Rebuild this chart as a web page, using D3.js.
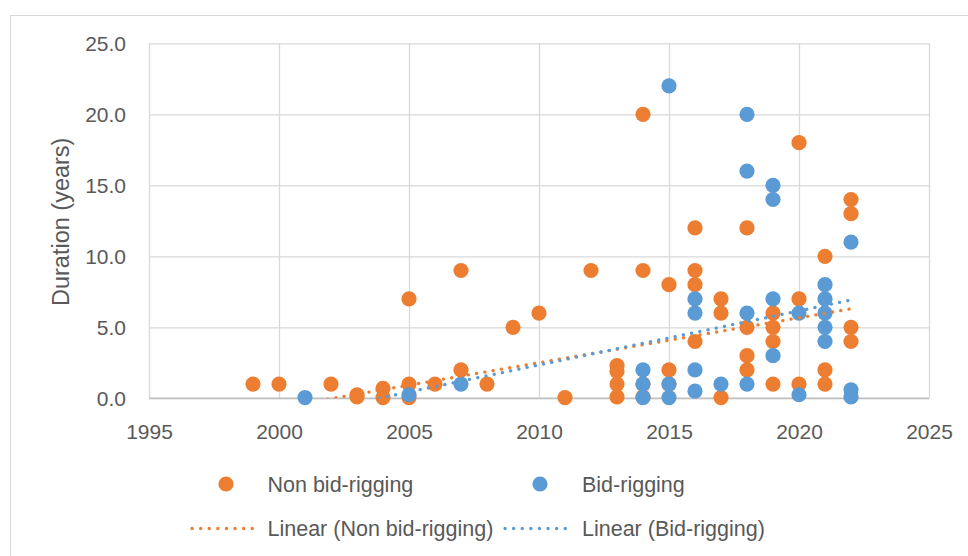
<!DOCTYPE html>
<html>
<head>
<meta charset="utf-8">
<script src="https://cdn.jsdelivr.net/npm/d3@7/dist/d3.min.js"></script>
<style>
  html, body { margin: 0; padding: 0; background: #ffffff; }
  svg { display: block; font-family: "Liberation Sans", Arial, sans-serif; }
</style>
</head>
<body>
<svg id="chart" width="968" height="556"></svg>
<script>
// ---- Data ----
const nonYears = [1999, 2000, 2002, 2003, 2003, 2004, 2004, 2005, 2005, 2005, 2006, 2007, 2007, 2008, 2009, 2010, 2011, 2012,
  2013, 2013, 2013, 2013, 2014, 2014, 2014, 2014, 2015, 2015, 2015, 2016, 2016, 2016, 2016,
  2017, 2017, 2017, 2018, 2018, 2018, 2018, 2019, 2019, 2019, 2019, 2020, 2020, 2020, 2021, 2021, 2021, 2022, 2022, 2022, 2022];
const nonDuration = [1, 1, 1, 0.25, 0.1, 0.7, 0.05, 7, 1, 0.05, 1, 9, 2, 1, 5, 6, 0.05, 9,
  2.3, 1.9, 1.0, 0.1, 20, 9, 1.0, 0.1, 8, 2, 1, 12, 9, 8, 4,
  7, 6, 0.05, 12, 5, 3, 2, 6, 5, 4, 1, 18, 7, 1, 10, 2, 1, 14, 13, 5, 4];

const bidYears = [2001, 2005, 2007, 2014, 2014, 2014, 2015, 2015, 2015, 2016, 2016, 2016, 2016, 2017,
  2018, 2018, 2018, 2018, 2019, 2019, 2019, 2019, 2020, 2020, 2021, 2021, 2021, 2021, 2021, 2022, 2022, 2022];
const bidDuration = [0.05, 0.25, 1, 2, 1, 0.05, 22, 1, 0.05, 7, 6, 2, 0.5, 1,
  20, 16, 6, 1, 15, 14, 7, 3, 6, 0.25, 8, 7, 6, 5, 4, 11, 0.6, 0.1];

// Linear trendlines (end values)
const nonTrendYears = [1999, 2022];
const nonTrendValues = [-0.97, 6.30];
const bidTrendYears = [2001, 2022];
const bidTrendValues = [-1.08, 6.92];

const xTicks = [1995, 2000, 2005, 2010, 2015, 2020, 2025];
const yTicks = [0, 5, 10, 15, 20, 25];
const yTitle = "Duration (years)";
const legendLabels = ["Non bid-rigging", "Bid-rigging", "Linear (Non bid-rigging)", "Linear (Bid-rigging)"];

// ---- Style ----
const orange = "#ED7D31", blue = "#5B9BD5", textColor = "#595959", gridColor = "#d9d9d9";
const plot = { left: 149, right: 929, top: 43.3, bottom: 398.3 };

const svg = d3.select("#chart");

// chart border
svg.append("rect").attr("x", 10.5).attr("y", 15.5).attr("width", 1000).attr("height", 700)
  .attr("fill", "#fff").attr("stroke", "#d9d9d9").attr("stroke-width", 1);

const x = d3.scaleLinear().domain([1995, 2025]).range([plot.left, plot.right]);
const y = d3.scaleLinear().domain([0, 25]).range([plot.bottom, plot.top]);

// Y axis + horizontal gridlines
const yAxis = svg.append("g").attr("transform", `translate(${plot.left},0)`)
  .call(d3.axisLeft(y).tickValues(yTicks).tickFormat(d3.format(".1f"))
    .tickSize(-(plot.right - plot.left)).tickPadding(23));
yAxis.select(".domain").remove();
yAxis.selectAll("line").attr("stroke", gridColor).attr("stroke-width", 1.3);
yAxis.selectAll("text").attr("fill", textColor).attr("font-size", 21).attr("dy", "0.36em")
  .attr("font-family", "Liberation Sans, Arial, sans-serif");

// X axis + vertical gridlines
const xAxis = svg.append("g").attr("transform", `translate(0,${plot.bottom})`)
  .call(d3.axisBottom(x).tickValues(xTicks).tickFormat(d3.format("d"))
    .tickSize(-(plot.bottom - plot.top)).tickPadding(26));
xAxis.select(".domain").remove();
xAxis.selectAll("line").attr("stroke", gridColor).attr("stroke-width", 1.3);
xAxis.selectAll("text").attr("fill", textColor).attr("font-size", 21)
  .attr("font-family", "Liberation Sans, Arial, sans-serif");

// horizontal axis line at 0
svg.append("line").attr("x1", plot.left).attr("x2", plot.right)
  .attr("y1", y(0)).attr("y2", y(0)).attr("stroke", "#bfbfbf").attr("stroke-width", 1.5);

// Y title
svg.append("text").attr("transform", `translate(68.5,${(plot.top + plot.bottom) / 2 + 1}) rotate(-90)`)
  .attr("text-anchor", "middle").attr("fill", textColor).attr("font-size", 23.5).text(yTitle);

// clip
svg.append("clipPath").attr("id", "plotClip").append("rect")
  .attr("x", plot.left).attr("y", plot.top).attr("width", plot.right - plot.left).attr("height", plot.bottom - plot.top);

const r = 7.6;
// Non bid-rigging points
svg.append("g").selectAll("circle").data(nonYears.map((yr, i) => [yr, nonDuration[i]])).join("circle")
  .attr("cx", d => x(d[0])).attr("cy", d => y(d[1])).attr("r", r).attr("fill", orange);
// Bid-rigging points
svg.append("g").selectAll("circle").data(bidYears.map((yr, i) => [yr, bidDuration[i]])).join("circle")
  .attr("cx", d => x(d[0])).attr("cy", d => y(d[1])).attr("r", r).attr("fill", blue);

// Trendlines
const line = d3.line().x(d => x(d[0])).y(d => y(d[1]));
const trendG = svg.append("g").attr("clip-path", "url(#plotClip)");
trendG.append("path").datum(nonTrendYears.map((yr, i) => [yr, nonTrendValues[i]]))
  .attr("d", line).attr("fill", "none").attr("stroke", orange).attr("stroke-width", 3.3)
  .attr("stroke-linecap", "round").attr("stroke-dasharray", "0.1 8.3");
trendG.append("path").datum(bidTrendYears.map((yr, i) => [yr, bidTrendValues[i]]))
  .attr("d", line).attr("fill", "none").attr("stroke", blue).attr("stroke-width", 3.3)
  .attr("stroke-linecap", "round").attr("stroke-dasharray", "0.1 8.3");

// Legend
const legend = svg.append("g").attr("fill", textColor).attr("font-size", 21.5);
const legendItems = [
  { label: legendLabels[0], color: orange, type: "dot", sx: 226, tx: 267.5, cy: 484 },
  { label: legendLabels[1], color: blue, type: "dot", sx: 540, tx: 582, cy: 484 },
  { label: legendLabels[2], color: orange, type: "line", sx: 192, ex: 260, tx: 267.5, cy: 528.5 },
  { label: legendLabels[3], color: blue, type: "line", sx: 505, ex: 573, tx: 582, cy: 528.5 }
];
legendItems.forEach(it => {
  if (it.type === "dot") {
    legend.append("circle").attr("cx", it.sx).attr("cy", it.cy).attr("r", r).attr("fill", it.color);
  } else {
    legend.append("line").attr("x1", it.sx).attr("x2", it.ex).attr("y1", it.cy).attr("y2", it.cy)
      .attr("stroke", it.color).attr("stroke-width", 3.3).attr("stroke-linecap", "round")
      .attr("stroke-dasharray", "0.1 8.5");
  }
  legend.append("text").attr("x", it.tx).attr("y", it.cy).attr("dy", "0.36em").text(it.label);
});
</script>
</body>
</html>
